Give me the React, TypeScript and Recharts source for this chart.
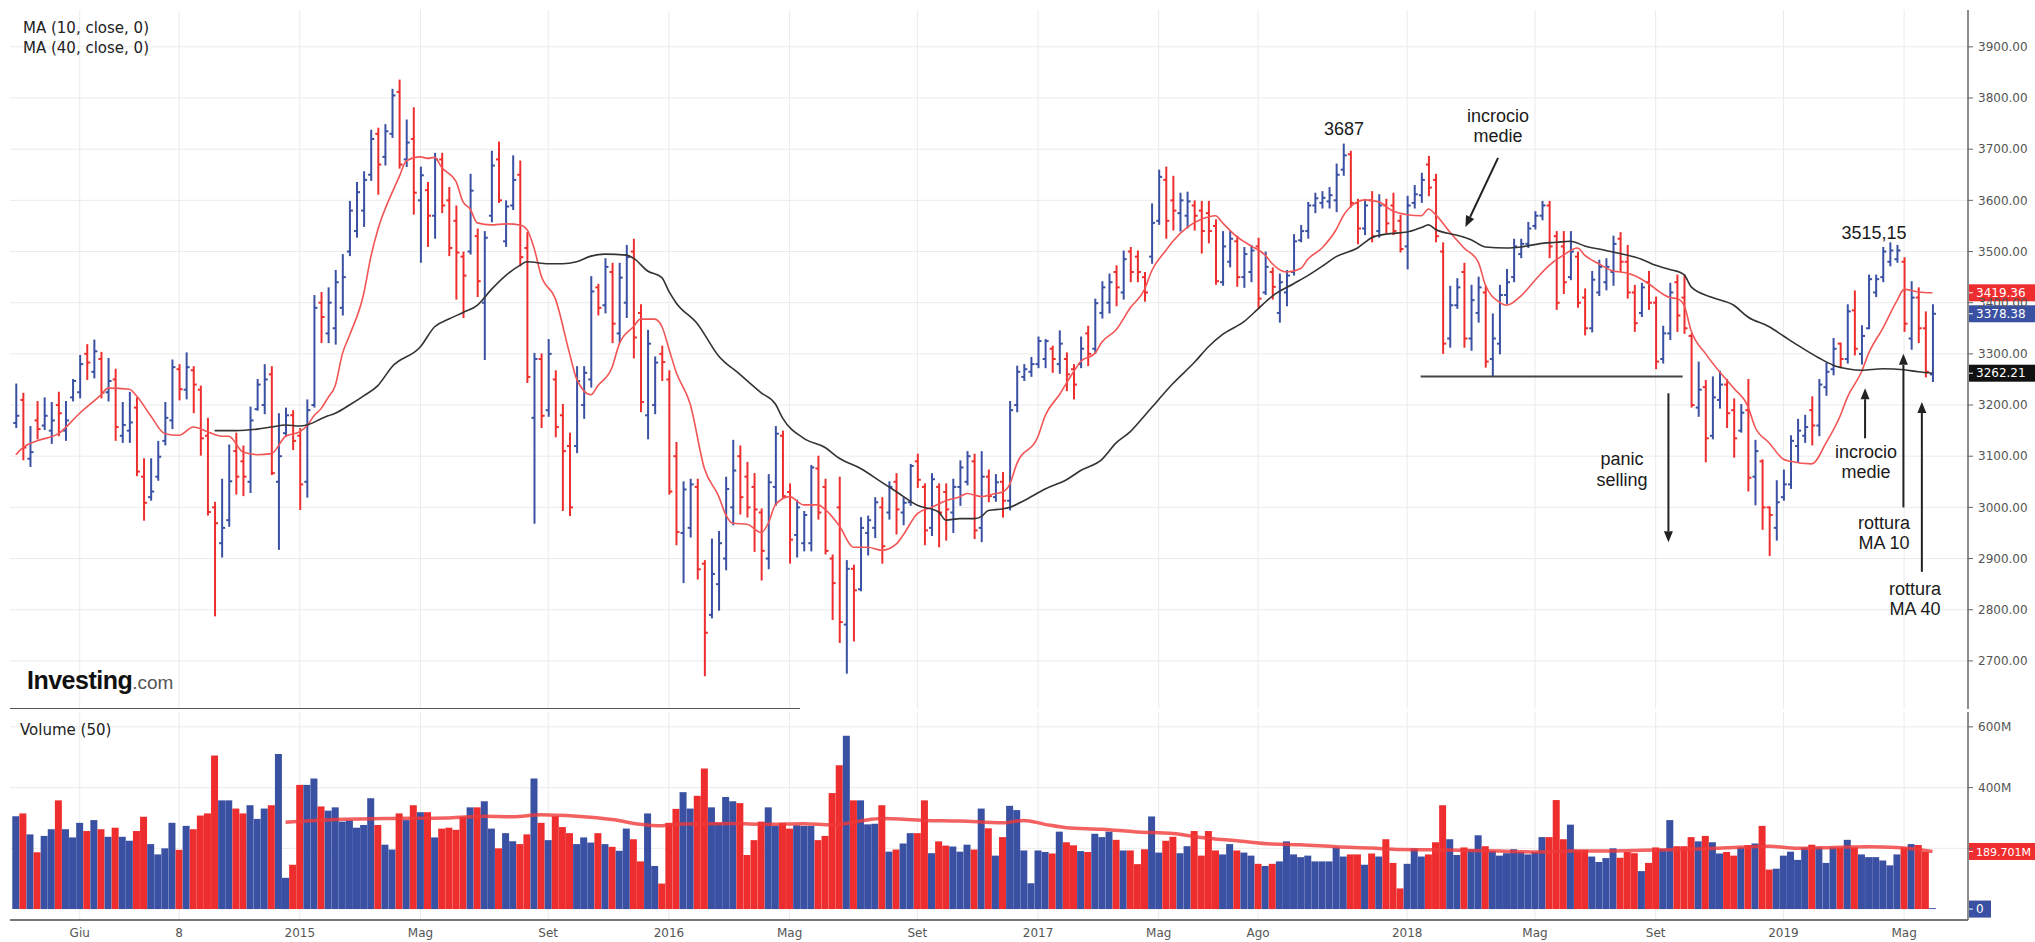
import React from "react";
import { ComposedChart, Bar, Line, XAxis, YAxis, CartesianGrid, ReferenceLine, Cell } from "recharts";

// weekly bars, end of March 2014 -> early June 2019
const tickIdx = [9, 23, 40, 57, 75, 92, 109, 127, 144, 161, 175, 196, 214, 231, 249, 266];
const tickLabels = ["Giu", "8", "2015", "Mag", "Set", "2016", "Mag", "Set", "2017", "Mag", "Ago", "2018", "Mag", "Set", "2019", "Mag"];

const priceTicks = [2700, 2800, 2900, 3000, 3100, 3200, 3300, 3400, 3500, 3600, 3700, 3800, 3900];
const volTicks = [200, 400, 600];

const opens = [
  3165, 3210, 3095, 3170, 3160, 3150, 3200, 3150, 3215, 3225,
  3300, 3265, 3290, 3225, 3250, 3140, 3150, 3195, 3060, 3020,
  3060, 3130, 3170, 3270, 3230, 3268, 3230, 3140, 3000, 2930,
  2975, 3110, 3090, 3050, 3192, 3200, 3260, 3050, 3145, 3180,
  3140, 3050, 3200, 3400, 3340, 3350, 3390, 3500, 3540, 3580,
  3650, 3730, 3685, 3730, 3812, 3680, 3720, 3600, 3620, 3570,
  3680, 3600, 3560, 3490, 3500, 3530, 3400, 3570, 3680, 3520,
  3590, 3650, 3507, 3175, 3290, 3190, 3250, 3180, 3120, 3120,
  3200, 3250, 3430, 3395, 3460, 3340, 3400, 3500, 3380, 3180,
  3200, 3300, 3250, 3100, 2950, 2960, 3040, 2890, 2790, 2850,
  2900, 3000, 3100, 3060, 3040, 2990, 2900, 3040, 3140, 3030,
  2946, 2930, 2930, 3076, 3040, 2900, 3000, 2771, 2880, 2840,
  2950, 2960, 3000, 2990, 3050, 2990, 3010, 3090, 3040, 2960,
  3040, 3030, 2990, 3040, 3050, 3090, 2960, 3060, 3020, 3050,
  3013, 3200, 3255, 3265, 3280, 3290, 3310, 3280, 3290, 3270,
  3280, 3340, 3310, 3380, 3400, 3460, 3420, 3500, 3490, 3450,
  3490, 3560, 3640, 3600, 3575, 3570, 3590, 3580, 3575, 3550,
  3440, 3480, 3520, 3450, 3460, 3510, 3420, 3460, 3380, 3420,
  3460, 3522, 3540, 3590, 3595, 3598, 3600, 3660, 3690, 3595,
  3545, 3600, 3540, 3590, 3590, 3560, 3510, 3595, 3610, 3670,
  3640, 3500, 3330, 3395, 3460, 3330, 3380, 3420, 3290, 3320,
  3415, 3450, 3495, 3515, 3550, 3570, 3590, 3530, 3510, 3450,
  3490, 3410, 3350, 3420, 3440, 3460, 3525, 3480, 3420, 3380,
  3440, 3400, 3290, 3340, 3440, 3410, 3335, 3195, 3235, 3140,
  3210, 3240, 3190, 3150, 3190, 3060, 3090, 3000, 2960, 3020,
  3045, 3120, 3140, 3190, 3160, 3235, 3270, 3320, 3290, 3385,
  3300, 3350, 3420, 3450, 3480, 3485, 3480, 3330, 3410, 3350,
  3260,
];

const highs = [
  3240, 3222, 3157, 3206, 3213, 3204, 3224, 3206, 3249, 3296,
  3317, 3326, 3302, 3290, 3269, 3204, 3224, 3213, 3094, 3094,
  3128, 3204, 3287, 3278, 3301, 3274, 3236, 3173, 3009, 3054,
  3121, 3144, 3119, 3195, 3249, 3278, 3274, 3182, 3193, 3188,
  3153, 3209, 3413, 3419, 3428, 3462, 3493, 3597, 3634, 3655,
  3736, 3740, 3747, 3816, 3834, 3756, 3780, 3664, 3634, 3691,
  3691, 3624, 3588, 3498, 3650, 3543, 3538, 3695, 3713, 3598,
  3686, 3676, 3536, 3300, 3299, 3327, 3266, 3200, 3144, 3274,
  3274, 3450, 3435, 3485, 3476, 3476, 3511, 3523, 3395, 3345,
  3293, 3314, 3266, 3126, 3049, 3054, 3054, 2895, 2937, 2952,
  3058, 3130, 3119, 3087, 3065, 2996, 3063, 3157, 3148, 3045,
  3013, 2991, 3081, 3099, 3054, 2906, 3058, 2895, 2886, 2979,
  2982, 3018, 3018, 3049, 3065, 3018, 3083, 3103, 3045, 3065,
  3045, 3045, 3054, 3090, 3108, 3103, 3108, 3072, 3063, 3067,
  3206, 3275, 3278, 3292, 3332, 3327, 3314, 3344, 3301, 3278,
  3332, 3353, 3406, 3440, 3455, 3471, 3500, 3507, 3500, 3458,
  3592, 3658, 3664, 3646, 3613, 3615, 3598, 3597, 3597, 3561,
  3538, 3538, 3529, 3507, 3511, 3525, 3498, 3467, 3455, 3462,
  3532, 3550, 3595, 3613, 3616, 3624, 3670, 3709, 3695, 3601,
  3601, 3616, 3610, 3601, 3613, 3570, 3607, 3628, 3652, 3685,
  3650, 3516, 3431, 3446, 3476, 3433, 3449, 3431, 3377, 3433,
  3464, 3523, 3523, 3556, 3577, 3597, 3597, 3538, 3538, 3538,
  3498, 3426, 3460, 3482, 3485, 3529, 3536, 3511, 3433, 3437,
  3460, 3410, 3353, 3437, 3453, 3453, 3338, 3283, 3247, 3254,
  3265, 3249, 3211, 3200, 3249, 3130, 3092, 3000, 3051, 3072,
  3139, 3171, 3179, 3215, 3249, 3281, 3329, 3320, 3395, 3422,
  3354, 3453, 3453, 3507, 3516, 3511, 3487, 3440, 3428, 3381,
  3395,
];

const lows = [
  3157, 3094, 3081, 3135, 3153, 3126, 3141, 3132, 3209, 3215,
  3251, 3254, 3215, 3209, 3132, 3128, 3128, 3063, 2976, 3015,
  3054, 3123, 3155, 3211, 3213, 3186, 3103, 2986, 2789, 2904,
  2964, 3027, 3024, 3030, 3191, 3184, 3065, 2919, 3141, 3114,
  2997, 3021, 3197, 3323, 3323, 3320, 3377, 3493, 3529, 3550,
  3640, 3613, 3670, 3724, 3664, 3667, 3574, 3480, 3511, 3527,
  3577, 3493, 3408, 3372, 3496, 3413, 3290, 3559, 3597, 3511,
  3583, 3473, 3245, 2970, 3157, 3179, 3139, 2995, 2985, 3108,
  3175, 3236, 3377, 3381, 3323, 3323, 3372, 3293, 3188, 3135,
  3184, 3249, 3027, 2928, 2854, 2943, 2861, 2672, 2785, 2800,
  2879, 2967, 2988, 2982, 2915, 2859, 2881, 3005, 3021, 2892,
  2904, 2916, 2916, 2978, 2910, 2782, 2737, 2677, 2740, 2838,
  2908, 2942, 2892, 2978, 2949, 2967, 3005, 3040, 2928, 2946,
  2924, 2937, 2952, 3005, 3045, 2940, 2934, 3012, 3013, 2982,
  2996, 3188, 3249, 3257, 3274, 3274, 3265, 3263, 3229, 3213,
  3274, 3278, 3302, 3371, 3381, 3395, 3408, 3442, 3442, 3404,
  3478, 3554, 3527, 3543, 3541, 3547, 3543, 3498, 3518, 3437,
  3435, 3471, 3433, 3431, 3442, 3390, 3417, 3408, 3363, 3395,
  3455, 3520, 3527, 3577, 3586, 3586, 3579, 3650, 3588, 3516,
  3534, 3520, 3529, 3538, 3534, 3500, 3467, 3586, 3597, 3610,
  3520, 3302, 3314, 3390, 3314, 3308, 3363, 3275, 3257, 3301,
  3399, 3442, 3489, 3509, 3545, 3563, 3489, 3388, 3419, 3446,
  3392, 3338, 3344, 3415, 3426, 3435, 3462, 3410, 3345, 3374,
  3388, 3272, 3283, 3329, 3345, 3341, 3197, 3179, 3090, 3135,
  3195, 3157, 3099, 3148, 3033, 3006, 2958, 2907, 2937, 3015,
  3038, 3090, 3128, 3123, 3141, 3220, 3260, 3274, 3283, 3299,
  3281, 3350, 3413, 3442, 3473, 3480, 3345, 3310, 3323, 3256,
  3247,
];

const closes = [
  3179, 3117, 3108, 3153, 3179, 3170, 3184, 3170, 3247, 3280,
  3283, 3305, 3224, 3247, 3157, 3161, 3166, 3070, 3009, 3031,
  3099, 3175, 3274, 3231, 3274, 3240, 3135, 2991, 2969, 2960,
  3051, 3060, 3060, 3170, 3240, 3250, 3067, 3100, 3180, 3130,
  3045, 3190, 3390, 3372, 3400, 3440, 3450, 3580, 3616, 3640,
  3720, 3670, 3735, 3805, 3670, 3713, 3615, 3649, 3570, 3680,
  3590, 3507, 3498, 3453, 3619, 3442, 3527, 3668, 3600, 3588,
  3640, 3489, 3255, 3290, 3179, 3300, 3157, 3110, 3000, 3247,
  3263, 3422, 3390, 3470, 3359, 3449, 3489, 3332, 3206, 3320,
  3283, 3284, 3031, 2952, 3035, 3045, 2879, 2755, 2870, 2930,
  3036, 3072, 3020, 3000, 2996, 2915, 3049, 3144, 3022, 2937,
  3000, 2985, 3078, 2990, 2915, 2852, 2776, 2880, 2838, 2960,
  2975, 3010, 2924, 3040, 2996, 3009, 3081, 3054, 2955, 3055,
  2990, 2996, 3040, 3078, 3100, 2955, 3060, 3022, 3049, 3013,
  3190, 3265, 3270, 3280, 3325, 3325, 3290, 3320, 3260, 3240,
  3310, 3300, 3399, 3430, 3440, 3430, 3485, 3460, 3460, 3420,
  3556, 3646, 3560, 3580, 3600, 3598, 3570, 3540, 3540, 3442,
  3510, 3525, 3450, 3495, 3502, 3408, 3470, 3431, 3440, 3453,
  3520, 3540, 3590, 3604, 3605, 3610, 3650, 3688, 3595, 3545,
  3590, 3530, 3590, 3555, 3540, 3505, 3590, 3612, 3640, 3625,
  3530, 3320, 3395, 3430, 3330, 3405, 3430, 3285, 3330, 3415,
  3440, 3510, 3515, 3545, 3570, 3590, 3510, 3400, 3440, 3500,
  3400, 3350, 3445, 3470, 3470, 3515, 3480, 3420, 3360, 3430,
  3400, 3285, 3340, 3420, 3375, 3350, 3200, 3230, 3135, 3215,
  3240, 3184, 3135, 3185, 3058, 3110, 3000, 2985, 3010, 3045,
  3130, 3150, 3157, 3160, 3240, 3265, 3310, 3290, 3383, 3310,
  3335, 3446, 3446, 3500, 3502, 3502, 3359, 3410, 3350, 3265,
  3378.38,
];

// millions of shares
const volumes = [
  306, 315, 246, 187, 241, 263, 358, 263, 236, 284,
  257, 293, 263, 238, 268, 238, 225, 257, 304, 214,
  180, 200, 284, 195, 274, 263, 308, 315, 506, 358,
  358, 331, 315, 342, 297, 331, 342, 511, 103, 146,
  409, 409, 430, 338, 324, 335, 288, 292, 268, 277,
  365, 277, 212, 196, 315, 293, 342, 319, 319, 236,
  265, 268, 261, 304, 335, 335, 355, 265, 200, 250,
  223, 214, 246, 430, 284, 227, 306, 270, 250, 214,
  236, 219, 250, 214, 205, 192, 265, 230, 157, 315,
  142, 84, 284, 330, 385, 331, 373, 463, 335, 284,
  369, 355, 349, 178, 227, 288, 335, 274, 284, 265,
  276, 274, 274, 227, 241, 382, 474, 571, 358, 358,
  279, 281, 342, 189, 196, 216, 250, 250, 358, 184,
  223, 209, 206, 189, 212, 196, 331, 266, 176, 237,
  340, 326, 193, 85, 193, 188, 183, 255, 220, 210,
  191, 188, 248, 237, 255, 228, 193, 193, 148, 197,
  305, 186, 225, 238, 184, 207, 257, 176, 257, 193,
  180, 214, 193, 186, 176, 149, 142, 149, 157, 223,
  180, 171, 176, 157, 157, 157, 203, 173, 180, 180,
  146, 183, 173, 230, 152, 68, 149, 200, 173, 180,
  220, 342, 230, 178, 203, 197, 243, 207, 191, 176,
  184, 197, 188, 180, 188, 237, 237, 359, 230, 278,
  195, 195, 173, 155, 168, 200, 169, 188, 184, 125,
  152, 203, 198, 293, 207, 207, 237, 223, 241, 220,
  183, 188, 176, 203, 211, 216, 274, 130, 133, 176,
  189, 162, 203, 212, 203, 152, 203, 203, 228, 203,
  180, 171, 171, 160, 144, 180, 203, 214, 211, 188,
  3,
];

// [week index, value]
const ma10Pts: [number, number][] = [
  [0, 3103], [1, 3117], [3, 3130], [6, 3144], [9, 3184], [12, 3220], [13, 3233], [16, 3231], [17, 3218], [19, 3179],
  [21, 3144], [23, 3141], [25, 3157], [27, 3148], [29, 3139], [30, 3139], [32, 3108], [34, 3103], [36, 3105], [38, 3139],
  [40, 3148], [41, 3159], [42, 3179], [43, 3193], [44, 3215], [45, 3238], [46, 3300], [47, 3336], [49, 3417], [50, 3489],
  [51, 3543], [53, 3615], [54, 3646], [55, 3677], [57, 3685], [58, 3682], [59, 3684], [60, 3664], [62, 3637], [63, 3597],
  [64, 3583], [65, 3556], [67, 3552], [69, 3554], [71, 3552], [72, 3543], [73, 3507], [74, 3453], [76, 3408], [78, 3301],
  [79, 3251], [81, 3220], [82, 3238], [84, 3274], [85, 3319], [87, 3353], [88, 3368], [90, 3368], [91, 3354], [92, 3310],
  [93, 3265], [95, 3202], [97, 3076], [99, 3022], [100, 2986], [101, 2969], [103, 2967], [105, 2951], [106, 2969], [107, 3005],
  [109, 3021], [111, 3005], [113, 3005], [114, 2996], [116, 2964], [118, 2922], [120, 2922], [122, 2916], [124, 2928], [125, 2946],
  [127, 2988], [129, 3000], [131, 3013], [133, 3021], [134, 3027], [136, 3021], [138, 3027], [139, 3030], [140, 3045], [141, 3085],
  [144, 3139], [145, 3179], [147, 3220], [149, 3265], [150, 3285], [152, 3301], [153, 3323], [155, 3347], [157, 3390], [159, 3426],
  [160, 3462], [162, 3502], [163, 3520], [165, 3547], [167, 3563], [169, 3570], [170, 3556], [172, 3529], [174, 3511], [176, 3493],
  [177, 3476], [179, 3460], [181, 3467], [182, 3485], [184, 3507], [186, 3543], [187, 3570], [189, 3597], [190, 3601], [192, 3597],
  [194, 3579], [196, 3572], [198, 3570], [199, 3583], [200, 3572], [202, 3538], [204, 3507], [206, 3480], [207, 3435], [209, 3401],
  [210, 3395], [212, 3413], [214, 3444], [216, 3473], [218, 3493], [220, 3507], [221, 3493], [223, 3476], [225, 3462], [227, 3458],
  [228, 3453], [230, 3437], [232, 3417], [233, 3410], [234, 3408], [235, 3395], [236, 3345], [238, 3301], [240, 3265], [242, 3233],
  [244, 3197], [245, 3157], [247, 3126], [249, 3094], [250, 3090], [253, 3085], [255, 3126], [257, 3179], [258, 3215], [260, 3265],
  [261, 3301], [263, 3350], [265, 3404], [266, 3426], [268, 3421], [270, 3419.36],
];

const ma40Pts: [number, number][] = [
  [28, 3150], [31, 3150], [34, 3153], [36, 3157], [38, 3161], [40, 3159], [41, 3161], [43, 3173], [44, 3179], [45, 3184],
  [47, 3200], [49, 3218], [51, 3238], [53, 3275], [57, 3314], [59, 3353], [61, 3368], [63, 3381], [65, 3395], [67, 3426],
  [69, 3453], [71, 3473], [72, 3480], [75, 3476], [77, 3476], [79, 3480], [81, 3491], [83, 3495], [86, 3493], [87, 3487],
  [89, 3462], [91, 3449], [92, 3422], [93, 3400], [96, 3359], [99, 3296], [102, 3260], [105, 3224], [107, 3202], [108, 3175],
  [111, 3135], [114, 3117], [116, 3096], [119, 3076], [122, 3049], [124, 3031], [127, 3004], [130, 2991], [131, 2975], [133, 2978],
  [135, 2978], [136, 2982], [137, 2994], [139, 2997], [140, 3000], [142, 3013], [145, 3036], [148, 3054], [150, 3072], [153, 3094],
  [155, 3126], [157, 3148], [159, 3179], [161, 3211], [163, 3242], [166, 3283], [168, 3314], [170, 3338], [173, 3363], [175, 3388],
  [177, 3413], [180, 3437], [182, 3453], [184, 3471], [186, 3490], [189, 3507], [191, 3527], [193, 3534], [196, 3538], [198, 3547],
  [199, 3552], [200, 3543], [203, 3532], [205, 3523], [207, 3509], [210, 3507], [212, 3509], [215, 3516], [217, 3518], [219, 3520],
  [221, 3511], [224, 3502], [226, 3496], [229, 3485], [231, 3473], [233, 3465], [235, 3455], [236, 3431], [239, 3410], [242, 3395],
  [244, 3372], [247, 3353], [249, 3335], [251, 3317], [254, 3292], [256, 3278], [258, 3271], [260, 3268], [263, 3271], [266, 3269],
  [268, 3265], [270, 3262.21],
];

const volMaPts: [number, number][] = [
  [38, 286], [41, 290], [45, 295], [52, 298], [61, 300], [66, 306], [70, 304], [74, 311], [79, 306], [84, 295],
  [88, 279], [91, 274], [93, 279], [97, 281], [101, 282], [106, 279], [111, 281], [115, 277], [119, 290], [122, 298],
  [128, 292], [133, 290], [139, 284], [142, 292], [145, 279], [148, 268], [153, 263], [158, 254], [163, 249], [167, 236],
  [172, 225], [177, 214], [181, 212], [186, 205], [191, 201], [195, 196], [200, 195], [205, 193], [209, 191], [214, 188],
  [219, 191], [223, 191], [228, 193], [233, 195], [237, 198], [242, 203], [247, 207], [251, 200], [256, 203], [261, 205],
  [265, 203], [270, 189.701],
];

const BLUE = "#3a50a3";
const RED = "#ee2e2e";
const GRID = "#ebebeb";
const AXIS = "#666";
const FONT = "'DejaVu Sans', sans-serif";
const NOTE_FONT = "'Liberation Sans', Arial, sans-serif";

const xDomain: [number, number] = [-0.82, 275];
const priceDomain: [number, number] = [2606, 3972];
const volDomain: [number, number] = [-36, 649];

type Row = {
  i: number; o: number; h: number; l: number; c: number; v: number; up: boolean;
  ma10?: number; ma40?: number; vma?: number;
};

const rows: Row[] = closes.map((c, i) => ({
  i, o: opens[i], h: highs[i], l: lows[i], c, v: volumes[i], up: c >= opens[i],
}));
ma10Pts.forEach(([i, v]) => { rows[i].ma10 = v; });
ma40Pts.forEach(([i, v]) => { rows[i].ma40 = v; });
volMaPts.forEach(([i, v]) => { rows[i].vma = v; });

const last = rows[rows.length - 1];

// OHLC bar: vertical high-low stick, open tick left, close tick right
const OhlcShape = (props: any) => {
  const { x, y, width, height, payload } = props;
  if (!payload || height == null) return null;
  const cx = x + width / 2;
  const span = payload.h - payload.l || 1;
  const py = (v: number) => y + ((payload.h - v) / span) * height;
  const col = payload.up ? BLUE : RED;
  return (
    <g stroke={col} strokeWidth={2}>
      <line x1={cx} x2={cx} y1={y - 1} y2={y + height + 1} />
      <line x1={cx - 3} x2={cx} y1={py(payload.o)} y2={py(payload.o)} />
      <line x1={cx} x2={cx + 3} y1={py(payload.c)} y2={py(payload.c)} />
    </g>
  );
};

const Arrow = (p: any) => {
  const { x1, y1, x2, y2 } = p;
  const ang = Math.atan2(y2 - y1, x2 - x1);
  const len = 11;
  const hw = 4.5;
  const bx = x2 - len * Math.cos(ang);
  const by = y2 - len * Math.sin(ang);
  const ox = -Math.sin(ang) * hw;
  const oy = Math.cos(ang) * hw;
  return (
    <g>
      <line x1={x1} y1={y1} x2={bx} y2={by} stroke="#222" strokeWidth={2} />
      <polygon points={`${x2},${y2} ${bx + ox},${by + oy} ${bx - ox},${by - oy}`} fill="#222" />
    </g>
  );
};

const ValueTag = (props: any) => {
  const { viewBox, fill, text, w = 67, size = 12 } = props;
  if (!viewBox) return null;
  const x = viewBox.x + viewBox.width;
  const y = viewBox.y;
  return (
    <g>
      <rect x={x + 1} y={y - 8.5} width={w} height={17} fill={fill} />
      <line x1={x + 1} x2={x + 5} y1={y} y2={y} stroke="#fff" />
      <text x={x + 8} y={y + 4.2} fill="#fff" fontSize={size} fontFamily={FONT}>{text}</text>
    </g>
  );
};

const Note = ({ x, y, text, lh = 19.5 }: { x: number; y: number; text: string; lh?: number }) => (
  <div
    style={{
      position: "absolute", left: x, top: y, transform: "translate(-50%, -50%)",
      textAlign: "center", whiteSpace: "pre", fontFamily: NOTE_FONT, fontSize: 18,
      lineHeight: `${lh}px`, color: "#1a1a1a",
    }}
  >
    {text}
  </div>
);

const tickText = { fill: "#555", fontSize: 12, fontFamily: FONT };

export default function App() {
  return (
    <div style={{ position: "absolute", left: 0, top: 0, width: 2035, height: 942, background: "#fff", overflow: "hidden" }}>
      <div style={{ position: "absolute", left: 0, top: 0 }}>
        <ComposedChart width={2035} height={712} data={rows} margin={{ top: 10, right: 0, bottom: 3, left: 10 }}>
          <CartesianGrid stroke={GRID} horizontalValues={priceTicks} verticalValues={tickIdx} />
          <XAxis dataKey="i" type="number" domain={xDomain} allowDataOverflow hide ticks={tickIdx} />
          <YAxis
            orientation="right" width={67} domain={priceDomain} allowDataOverflow ticks={priceTicks} interval={0}
            tickFormatter={(v: number) => v.toFixed(2)} axisLine={{ stroke: AXIS, strokeWidth: 1.5 }}
            tickLine={{ stroke: AXIS }} tickSize={5} tickMargin={5} tick={tickText}
          />
          <Bar dataKey={(d: Row) => [d.l, d.h]} barSize={4} shape={(p: any) => <OhlcShape {...p} />} isAnimationActive={false} />
          <Line dataKey="ma10" type="monotone" stroke="#f25555" strokeWidth={1.6} dot={false} connectNulls isAnimationActive={false} />
          <Line dataKey="ma40" type="monotone" stroke="#333" strokeWidth={1.6} dot={false} connectNulls isAnimationActive={false} />
          {/* support line */}
          <ReferenceLine segment={[{ x: 197.9, y: 3256 }, { x: 234.8, y: 3256 }]} stroke="#444" strokeWidth={2} ifOverflow="visible" />
          {/* arrows */}
          <ReferenceLine segment={[{ x: 208.8, y: 3683 }, { x: 204.2, y: 3548 }]} shape={(p: any) => <Arrow {...p} />} ifOverflow="visible" />
          <ReferenceLine segment={[{ x: 232.8, y: 3223 }, { x: 232.8, y: 2932 }]} shape={(p: any) => <Arrow {...p} />} ifOverflow="visible" />
          <ReferenceLine segment={[{ x: 260.5, y: 3135 }, { x: 260.5, y: 3233 }]} shape={(p: any) => <Arrow {...p} />} ifOverflow="visible" />
          <ReferenceLine segment={[{ x: 265.9, y: 3000 }, { x: 265.9, y: 3300 }]} shape={(p: any) => <Arrow {...p} />} ifOverflow="visible" />
          <ReferenceLine segment={[{ x: 268.5, y: 2874 }, { x: 268.5, y: 3206 }]} shape={(p: any) => <Arrow {...p} />} ifOverflow="visible" />
          {/* last values */}
          <ReferenceLine y={last.ma10} stroke="none" label={<ValueTag fill={RED} text={last.ma10?.toFixed(2)} />} />
          <ReferenceLine y={last.c} stroke="none" label={<ValueTag fill={BLUE} text={last.c.toFixed(2)} />} />
          <ReferenceLine y={last.ma40} stroke="none" label={<ValueTag fill="#111" text={last.ma40?.toFixed(2)} />} />
        </ComposedChart>
      </div>

      <div style={{ position: "absolute", left: 0, top: 700 }}>
        <ComposedChart width={2035} height={242} data={rows} margin={{ top: 12, right: 0, bottom: 0, left: 10 }}>
          <CartesianGrid stroke={GRID} horizontalValues={volTicks} verticalValues={tickIdx} />
          <XAxis
            dataKey="i" type="number" domain={xDomain} allowDataOverflow ticks={tickIdx} interval={0} height={22}
            tickFormatter={(v: number) => tickLabels[tickIdx.indexOf(v)] ?? ""}
            axisLine={{ stroke: "#777", strokeWidth: 2 }} tickLine={false} tick={tickText}
          />
          <YAxis
            orientation="right" width={67} domain={volDomain} allowDataOverflow ticks={volTicks} interval={0}
            tickFormatter={(v: number) => (v === 200 ? "" : `${v}M`)} axisLine={{ stroke: AXIS, strokeWidth: 1.5 }}
            tickLine={{ stroke: AXIS }} tickSize={5} tickMargin={5} tick={tickText}
          />
          <Bar dataKey="v" barSize={7} isAnimationActive={false}>
            {rows.map((r) => (
              <Cell key={r.i} fill={r.up ? BLUE : RED} />
            ))}
          </Bar>
          <Line dataKey="vma" type="monotone" stroke="#f03a3a" strokeOpacity={0.8} strokeWidth={3.5} dot={false} connectNulls isAnimationActive={false} />
          <ReferenceLine y={last.vma} stroke="none" label={<ValueTag fill={RED} text={`${last.vma}M`} size={11} />} />
          <ReferenceLine y={0} stroke="none" label={<ValueTag fill={BLUE} text="0" w={22} />} />
        </ComposedChart>
      </div>

      {/* panel separator */}
      <div style={{ position: "absolute", left: 10, top: 708, width: 790, borderTop: "1.5px solid #555" }} />

      <div style={{ position: "absolute", left: 23, top: 20, fontFamily: FONT, fontSize: 15, lineHeight: "16px", color: "#222" }}>MA (10, close, 0)</div>
      <div style={{ position: "absolute", left: 23, top: 40, fontFamily: FONT, fontSize: 15, lineHeight: "16px", color: "#222" }}>MA (40, close, 0)</div>
      <div style={{ position: "absolute", left: 20, top: 722, fontFamily: FONT, fontSize: 15, lineHeight: "16px", color: "#222" }}>Volume (50)</div>

      <div style={{ position: "absolute", left: 27, top: 666, fontFamily: NOTE_FONT, whiteSpace: "nowrap", lineHeight: "28px" }}>
        <span style={{ fontSize: 25, fontWeight: 900, color: "#111", letterSpacing: -0.5 }}>Investing</span>
        <span style={{ fontSize: 19, color: "#555" }}>.com</span>
      </div>

      <Note x={1344} y={130} text="3687" />
      <Note x={1498} y={126} text={"incrocio\nmedie"} />
      <Note x={1622} y={470} text={"panic\nselling"} lh={21} />
      <Note x={1874} y={234} text="3515,15" />
      <Note x={1866} y={462} text={"incrocio\nmedie"} />
      <Note x={1884} y={533} text={"rottura\nMA 10"} />
      <Note x={1915} y={599} text={"rottura\nMA 40"} />
    </div>
  );
}
